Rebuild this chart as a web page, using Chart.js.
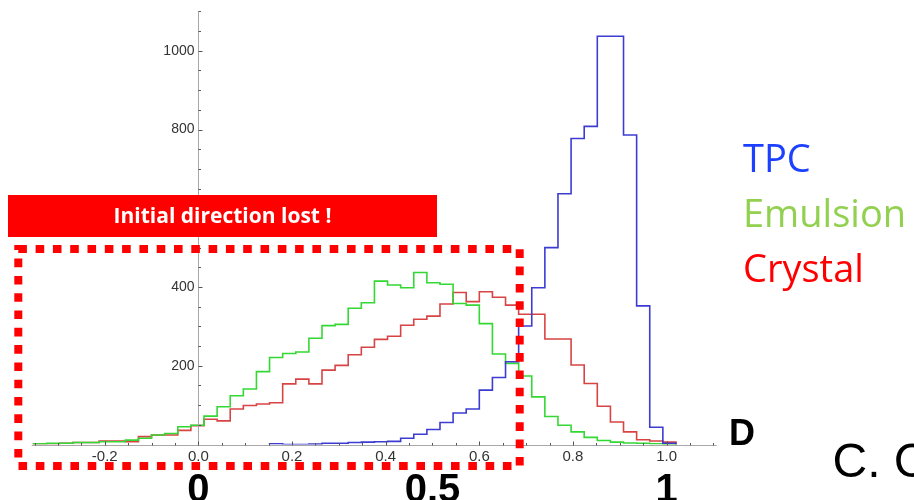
<!DOCTYPE html>
<html>
<head>
<meta charset="utf-8">
<script src="https://cdn.jsdelivr.net/npm/chart.js@4.4.1/dist/chart.umd.min.js"></script>
<style>
  html, body { margin: 0; padding: 0; background: #ffffff; }
  #wrap { position: relative; width: 914px; height: 500px; overflow: hidden; }
  canvas { display: block; }
</style>
</head>
<body>
<div id="wrap"><canvas id="hist" width="914" height="500"></canvas></div>
<script>
// Bin edges of the D histograms (49 bins)
const binEdges = [
  -0.352, -0.324, -0.296, -0.268, -0.240, -0.212, -0.184, -0.156, -0.128, -0.100,
  -0.072, -0.044, -0.016,  0.012,  0.040,  0.068,  0.096,  0.124,  0.152,  0.180,
   0.208,  0.236,  0.264,  0.292,  0.320,  0.348,  0.376,  0.404,  0.432,  0.460,
   0.488,  0.516,  0.544,  0.572,  0.600,  0.628,  0.656,  0.684,  0.712,  0.740,
   0.768,  0.796,  0.824,  0.852,  0.880,  0.908,  0.936,  0.964,  0.992,  1.020
];

// Counts per bin
const tpcCounts = [
  0, 0, 0, 0, 0, 0, 0, 0, 0, 0, 0, 0, 0, 0, 0, 0, 0,
  0, 2, 0, 0, 1, 3, 3, 5, 6, 7, 8, 16, 26, 38, 56, 80, 90,
  138, 170, 210, 301, 398, 500, 637, 777, 808, 1037, 1037, 786, 352, 44, 3
];
const emulsionCounts = [
  2, 3, 3, 5, 5, 7, 7, 11, 16, 24, 28, 45, 49,
  72, 96, 124, 141, 185, 221, 231, 235, 270, 302, 305, 346, 360, 415,
  405, 398, 437, 411, 407, 358, 354, 307, 230, 206, 174, 121, 71,
  49, 32, 18, 10, 6, 4, 3, 2, 1
];
const crystalCounts = [
  2, 2, 3, 5, 5, 9, 9, 7, 20, 24, 24, 36, 48,
  64, 60, 90, 99, 103, 106, 154, 166, 154, 189, 201, 228, 247, 267,
  275, 303, 318, 326, 357, 386, 363, 388, 374, 354, 331, 331, 268,
  268, 202, 155, 97, 57, 32, 12, 9, 6
];

const seriesNames = ['TPC', 'Emulsion', 'Crystal'];
const xTickValues = [-0.2, 0.0, 0.2, 0.4, 0.6, 0.8, 1.0];
const yTickValues = [200, 400, 600, 800, 1000];
const markerValues = [0, 0.5, 1];
const markerLabels = ['0', '0.5', '1'];

const lineColors = ['rgb(60,60,210)', 'rgb(52,216,52)', 'rgb(216,68,68)'];
const legendColors = ['#1c40ff', '#92d050', '#ff0000'];

// Outline of a histogram as a stepped path through the bin edges
function outline(counts) {
  const first = counts.findIndex(c => c > 0);
  const n = counts.length;
  const pts = [{ x: binEdges[first], y: 0 }];
  for (let i = first; i < n; i++) pts.push({ x: binEdges[i], y: counts[i] });
  pts.push({ x: binEdges[n], y: counts[n - 1] });
  pts.push({ x: binEdges[n], y: 0 });
  return pts;
}

Chart.defaults.font.family = '"Liberation Sans", Arial, sans-serif';

// Axes through the origin with inward tick marks, drawn over the outlines
const axesPlugin = {
  id: 'originAxes',
  afterDatasetsDraw(chart) {
    const { ctx, scales: { x, y } } = chart;
    const x0 = Math.round(x.getPixelForValue(0)) + 0.5;
    const yb = Math.round(y.getPixelForValue(0)) + 0.5;
    ctx.save();
    ctx.lineWidth = 1;
    ctx.strokeStyle = '#a8a8a8';
    ctx.beginPath();
    ctx.moveTo(x.left, yb); ctx.lineTo(x.right, yb);
    ctx.moveTo(x0, y.top); ctx.lineTo(x0, yb);
    ctx.stroke();

    ctx.strokeStyle = '#555555';
    ctx.beginPath();
    for (let k = Math.ceil(x.min / 0.05 - 1e-9); k * 0.05 <= x.max + 1e-9; k++) {
      const px = Math.round(x.getPixelForValue(k * 0.05)) + 0.5;
      const len = (k % 4 === 0) ? 4 : 2.5;
      ctx.moveTo(px, yb); ctx.lineTo(px, yb - len);
    }
    for (let k = 1; k * 50 <= y.max; k++) {
      const py = Math.round(y.getPixelForValue(k * 50)) + 0.5;
      const len = (k % 4 === 0) ? 4 : 2.5;
      ctx.moveTo(x0, py); ctx.lineTo(x0 + len, py);
    }
    ctx.stroke();
    ctx.restore();
  },
  afterDraw(chart) {
    const { ctx, scales: { x } } = chart;
    ctx.save();

    // dotted frame around the low-D region
    ctx.strokeStyle = '#ff0000';
    ctx.lineWidth = 8;
    ctx.setLineDash([8.6, 8.7]);
    ctx.strokeRect(18.3, 249, 501.4, 217);
    ctx.setLineDash([]);

    // banner
    ctx.fillStyle = '#ff0000';
    ctx.fillRect(8, 195, 429, 42);
    ctx.fillStyle = '#ffffff';
    ctx.font = 'bold 21px "Open Sans", sans-serif';
    ctx.textAlign = 'center';
    ctx.textBaseline = 'alphabetic';
    ctx.fillText('Initial direction lost !', 222.5, 222.5);

    // series names
    ctx.textAlign = 'left';
    ctx.font = '38px "Open Sans", sans-serif';
    seriesNames.forEach((name, i) => {
      ctx.fillStyle = legendColors[i];
      ctx.fillText(name, 743, 171.7 + i * 55);
    });

    // axis name
    ctx.fillStyle = '#000000';
    ctx.font = 'bold 36px "Liberation Sans", Arial, sans-serif';
    ctx.fillText('D', 729, 445);

    // large reference values under the D axis
    ctx.textAlign = 'center';
    ctx.font = 'bold 40px "Liberation Sans", Arial, sans-serif';
    markerValues.forEach((v, i) => {
      ctx.fillText(markerLabels[i], x.getPixelForValue(v), 502);
    });

    // side caption
    ctx.textAlign = 'left';
    ctx.font = '48px "Liberation Sans", Arial, sans-serif';
    ctx.fillText('C. C', 832.5, 476.7);

    ctx.restore();
  }
};

const datasets = [tpcCounts, emulsionCounts, crystalCounts].map((counts, i) => ({
  label: seriesNames[i],
  data: outline(counts),
  stepped: 'before',
  borderColor: lineColors[i],
  borderWidth: 1.6,
  pointRadius: 0,
  fill: false,
  tension: 0
}));

new Chart(document.getElementById('hist'), {
  type: 'line',
  data: { datasets },
  options: {
    responsive: false,
    animation: false,
    events: [],
    layout: { padding: { left: 31.7, right: 197.3, top: 11.1, bottom: 15.5 } },
    plugins: { legend: { display: false }, tooltip: { enabled: false } },
    scales: {
      x: {
        type: 'linear',
        min: -0.356,
        max: 1.107,
        grid: { display: false, drawTicks: false },
        border: { display: false },
        afterBuildTicks: s => { s.ticks = xTickValues.map(v => ({ value: v })); },
        afterFit: s => { s.height = 40; },
        ticks: {
          autoSkip: false,
          maxRotation: 0,
          padding: 3,
          color: '#333333',
          font: { size: 15 },
          callback: v => (Math.abs(v) < 1e-9 ? 0 : v).toFixed(1)
        }
      },
      y: {
        type: 'linear',
        position: { x: 0 },
        min: 0,
        max: 1100,
        grid: { display: false, drawTicks: false },
        border: { display: false },
        afterBuildTicks: s => { s.ticks = yTickValues.map(v => ({ value: v })); },
        ticks: {
          autoSkip: false,
          color: '#333333',
          font: { size: 14 },
          callback: v => String(v) + ' '
        }
      }
    }
  },
  plugins: [axesPlugin]
});
</script>
</body>
</html>
